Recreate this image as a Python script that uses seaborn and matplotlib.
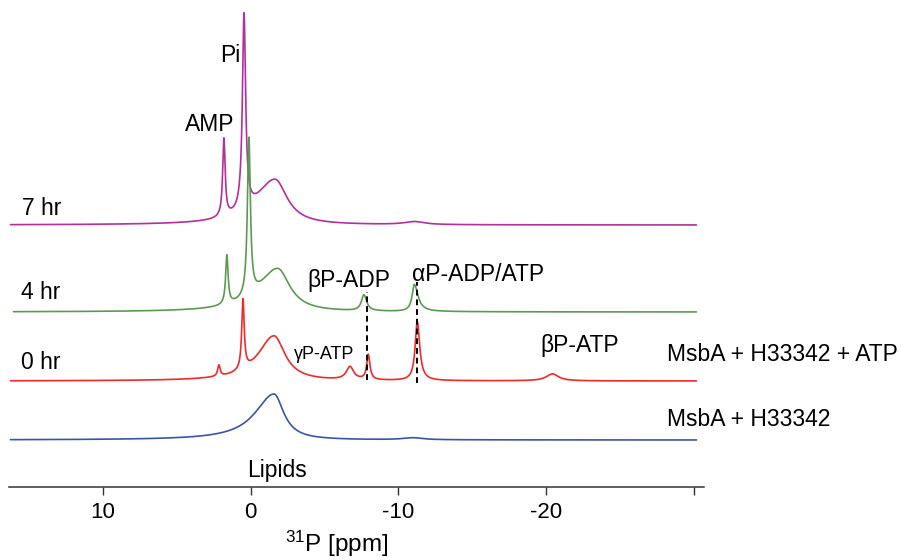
import numpy as np
import pandas as pd
import matplotlib
matplotlib.use("Agg")
import matplotlib.pyplot as plt
import seaborn as sns

# ---------------- data ----------------
trace_names = ["7 hr", "4 hr", "0 hr", "MsbA + H33342"]

# peaks per trace: centre [ppm], amplitude [a.u.], half-width left / right [ppm]
peaks_7hr_ppm = [1.81, 0.45, -1.65, -11.07]
peaks_7hr_amp = [78, 196, 45, 3]
peaks_7hr_wl = [0.10, 0.13, 1.55, 0.8]
peaks_7hr_wr = [0.10, 0.13, 1.00, 0.8]

peaks_4hr_ppm = [1.61, 0.12, -1.83, -7.66, -11.07]
peaks_4hr_amp = [49, 158, 43, 16, 27]
peaks_4hr_wl = [0.10, 0.12, 1.55, 0.20, 0.18]
peaks_4hr_wr = [0.10, 0.12, 1.00, 0.22, 0.30]

peaks_0hr_ppm = [2.15, 0.52, -1.58, -6.72, -7.96, -11.27, -20.42]
peaks_0hr_amp = [11, 70, 45, 13, 25, 59, 7]
peaks_0hr_wl = [0.10, 0.10, 1.30, 0.30, 0.13, 0.17, 0.5]
peaks_0hr_wr = [0.10, 0.10, 0.90, 0.30, 0.13, 0.20, 0.5]

peaks_apo_ppm = [-1.58, -10.97]
peaks_apo_amp = [46, 2]
peaks_apo_wl = [1.55, 0.8]
peaks_apo_wr = [0.80, 0.8]

ppm_start = [16.25, 16.05, 16.25, 16.25]
ppm_end = [-30.16, -30.16, -30.16, -30.16]

# dashed guide lines (ppm) linking ADP/ATP resonances
guide_ppm = [-7.87, -11.24]
guide_y0 = [107, 104]
guide_y1 = [195, 205]

tick_values = [10, 0, -10, -20, -30]
tick_labels = ["10", "0", "-10", "-20", ""]

# ---------------- layout / style ----------------
offsets = [262, 175, 106, 47]
colors = ["#B22F9C", "#5C9A52", "#EE2A2A", "#3B54A6"]


def spectrum(ppm, centres, amps, wl, wr):
    y = np.zeros_like(ppm)
    for c, a, l, r in zip(centres, amps, wl, wr):
        d = ppm - c
        w = np.where(d >= 0, l, r)
        y += a / (1.0 + (d / w) ** 2)
    return y


peak_sets = [
    (peaks_7hr_ppm, peaks_7hr_amp, peaks_7hr_wl, peaks_7hr_wr),
    (peaks_4hr_ppm, peaks_4hr_amp, peaks_4hr_wl, peaks_4hr_wr),
    (peaks_0hr_ppm, peaks_0hr_amp, peaks_0hr_wl, peaks_0hr_wr),
    (peaks_apo_ppm, peaks_apo_amp, peaks_apo_wl, peaks_apo_wr),
]

frames = []
for name, ps, s, e, off in zip(trace_names, peak_sets, ppm_start, ppm_end, offsets):
    x = np.linspace(s, e, 5000)
    y = spectrum(x, *ps) + off
    frames.append(pd.DataFrame({"ppm": x, "signal": y, "trace": name}))
df = pd.concat(frames, ignore_index=True)

sns.set_theme(style="white")
plt.rcParams["font.family"] = ["Liberation Sans", "DejaVu Sans"]
plt.rcParams["axes.unicode_minus"] = False
plt.rcParams["mathtext.fontset"] = "custom"
plt.rcParams["mathtext.rm"] = "Liberation Sans"

fig = plt.figure(figsize=(9.01, 5.60), dpi=100)
ax = fig.add_axes([9 / 901, 73 / 560, 695 / 901, 487 / 560])

sns.lineplot(data=df, x="ppm", y="signal", hue="trace", hue_order=trace_names,
             palette=colors, estimator=None, sort=False, legend=False,
             linewidth=1.2, ax=ax)

ax.vlines(guide_ppm, guide_y0, guide_y1, colors="black", linestyles=(0, (3, 2)),
          linewidth=1.4)

ax.set_xlim(16.35, -30.67)
ax.set_ylim(0, 487)
ax.set_yticks([])
ax.set_ylabel("")
for side in ["top", "right", "left"]:
    ax.spines[side].set_visible(False)
ax.spines["bottom"].set_color("#333333")
ax.spines["bottom"].set_linewidth(1.1)
ax.set_xticks(tick_values)
ax.set_xticklabels(tick_labels)
ax.tick_params(axis="x", direction="out", length=6, width=1.0, color="#333333",
               labelsize=16, labelcolor="black", pad=5, bottom=True)
ax.set_xlabel(r"$\mathregular{^{31}}$P [ppm]", fontsize=17.5, color="black")
ax.xaxis.set_label_coords(0.471, -0.1335)
ax.xaxis.label.set_verticalalignment("baseline")

fs = 16.5
txt = dict(color="black", va="baseline")
ax.text(1.40, 425, "Pi", ha="center", fontsize=fs, **txt)
ax.text(2.75, 356, "AMP", ha="center", fontsize=fs, **txt)
ax.text(15.47, 272, "7 hr", ha="left", fontsize=fs, **txt)
ax.text(15.54, 188, "4 hr", ha="left", fontsize=fs, **txt)
ax.text(15.54, 118, "0 hr", ha="left", fontsize=fs, **txt)
ax.text(-6.65, 200, "βP-ADP", ha="center", fontsize=fs, **txt)
ax.text(-15.38, 206, "αP-ADP/ATP", ha="center", fontsize=fs, **txt)
ax.text(-4.96, 128, "γP-ATP", ha="center", fontsize=13, **txt)
ax.text(-22.28, 135, "βP-ATP", ha="center", fontsize=fs, **txt)
ax.text(-28.16, 126, "MsbA + H33342 + ATP", ha="left", fontsize=fs, clip_on=False, **txt)
ax.text(-28.16, 61, "MsbA + H33342", ha="left", fontsize=fs, clip_on=False, **txt)
ax.text(-1.78, 10, "Lipids", ha="center", fontsize=fs, **txt)

fig.savefig("out.png", dpi=100)
